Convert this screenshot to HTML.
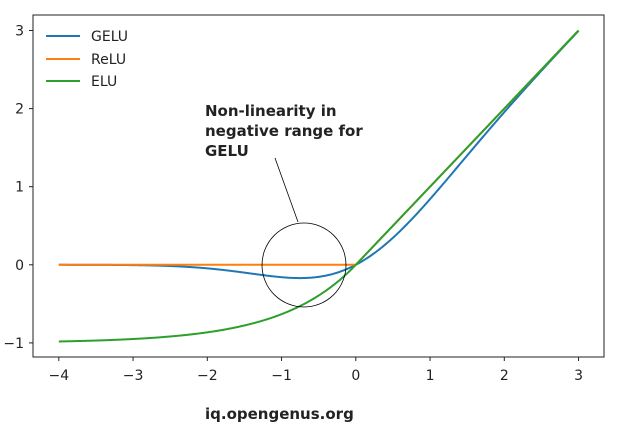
<!DOCTYPE html>
<html><head><style>body{margin:0;background:#fff}svg{display:block}text{font-family:"DejaVu Sans","Liberation Sans",sans-serif;fill:#222}</style></head>
<body>
<svg id="s" width="621" height="429" xmlns="http://www.w3.org/2000/svg">
<rect x="33" y="15" width="571" height="342" fill="none" stroke="#222" stroke-width="1"/>
<g id="ticks" font-size="14"></g>
<path id="gelu" fill="none" stroke="#1f77b4" stroke-width="2"/>
<path id="relu" fill="none" stroke="#ff7f0e" stroke-width="2"/>
<path id="elu" fill="none" stroke="#2ca02c" stroke-width="2"/>
<circle cx="304" cy="265" r="42" fill="none" stroke="#000" stroke-width="0.8"/>
<line x1="275" y1="158" x2="298" y2="222" stroke="#000" stroke-width="0.8"/>
<text x="205" y="116" font-size="15" font-weight="bold" fill="#000">Non-linearity in</text>
<text x="205" y="136" font-size="15" font-weight="bold" fill="#000">negative range for</text>
<text x="205" y="156" font-size="15" font-weight="bold" fill="#000">GELU</text>
<text x="205" y="419" font-size="15" font-weight="bold" fill="#000">iq.opengenus.org</text>
<line x1="46" y1="36" x2="80" y2="36" stroke="#1f77b4" stroke-width="2"/>
<line x1="46" y1="59" x2="80" y2="59" stroke="#ff7f0e" stroke-width="2"/>
<line x1="46" y1="81" x2="80" y2="81" stroke="#2ca02c" stroke-width="2"/>
<text x="91" y="41" font-size="14">GELU</text>
<text x="91" y="64" font-size="14">ReLU</text>
<text x="91" y="86" font-size="14">ELU</text>
</svg>
<script>
var X=function(v){return 355.8+v*74.25},Y=function(v){return 264.8-v*78.1};
function erf(x){var s=x<0?-1:1;x=Math.abs(x);var t=1/(1+0.3275911*x);var y=1-(((((1.061405429*t-1.453152027)*t)+1.421413741)*t-0.284496736)*t+0.254829592)*t*Math.exp(-x*x);return s*y;}
function path(f){var d="";for(var i=0;i<=700;i++){var v=-4+i*0.01;d+=(i?"L":"M")+X(v).toFixed(2)+","+Y(f(v)).toFixed(2);}return d;}
document.getElementById("gelu").setAttribute("d",path(function(x){return 0.5*x*(1+erf(x/Math.SQRT2));}));
document.getElementById("relu").setAttribute("d",path(function(x){return Math.max(0,x);}));
document.getElementById("elu").setAttribute("d",path(function(x){return x>0?x:Math.exp(x)-1;}));
var g=document.getElementById("ticks"),h="";
for(var i=-4;i<=3;i++){var x=X(i);h+='<line x1="'+x+'" y1="357" x2="'+x+'" y2="361" stroke="#222"/><text x="'+x+'" y="380" text-anchor="middle">'+(i<0?"\u2212"+(-i):i)+'</text>';}
for(var j=-1;j<=3;j++){var y=Y(j);h+='<line x1="29" y1="'+y+'" x2="33" y2="'+y+'" stroke="#222"/><text x="24" y="'+(y+5)+'" text-anchor="end">'+(j<0?"\u2212"+(-j):j)+'</text>';}
g.innerHTML=h;
</script>
</body></html>
